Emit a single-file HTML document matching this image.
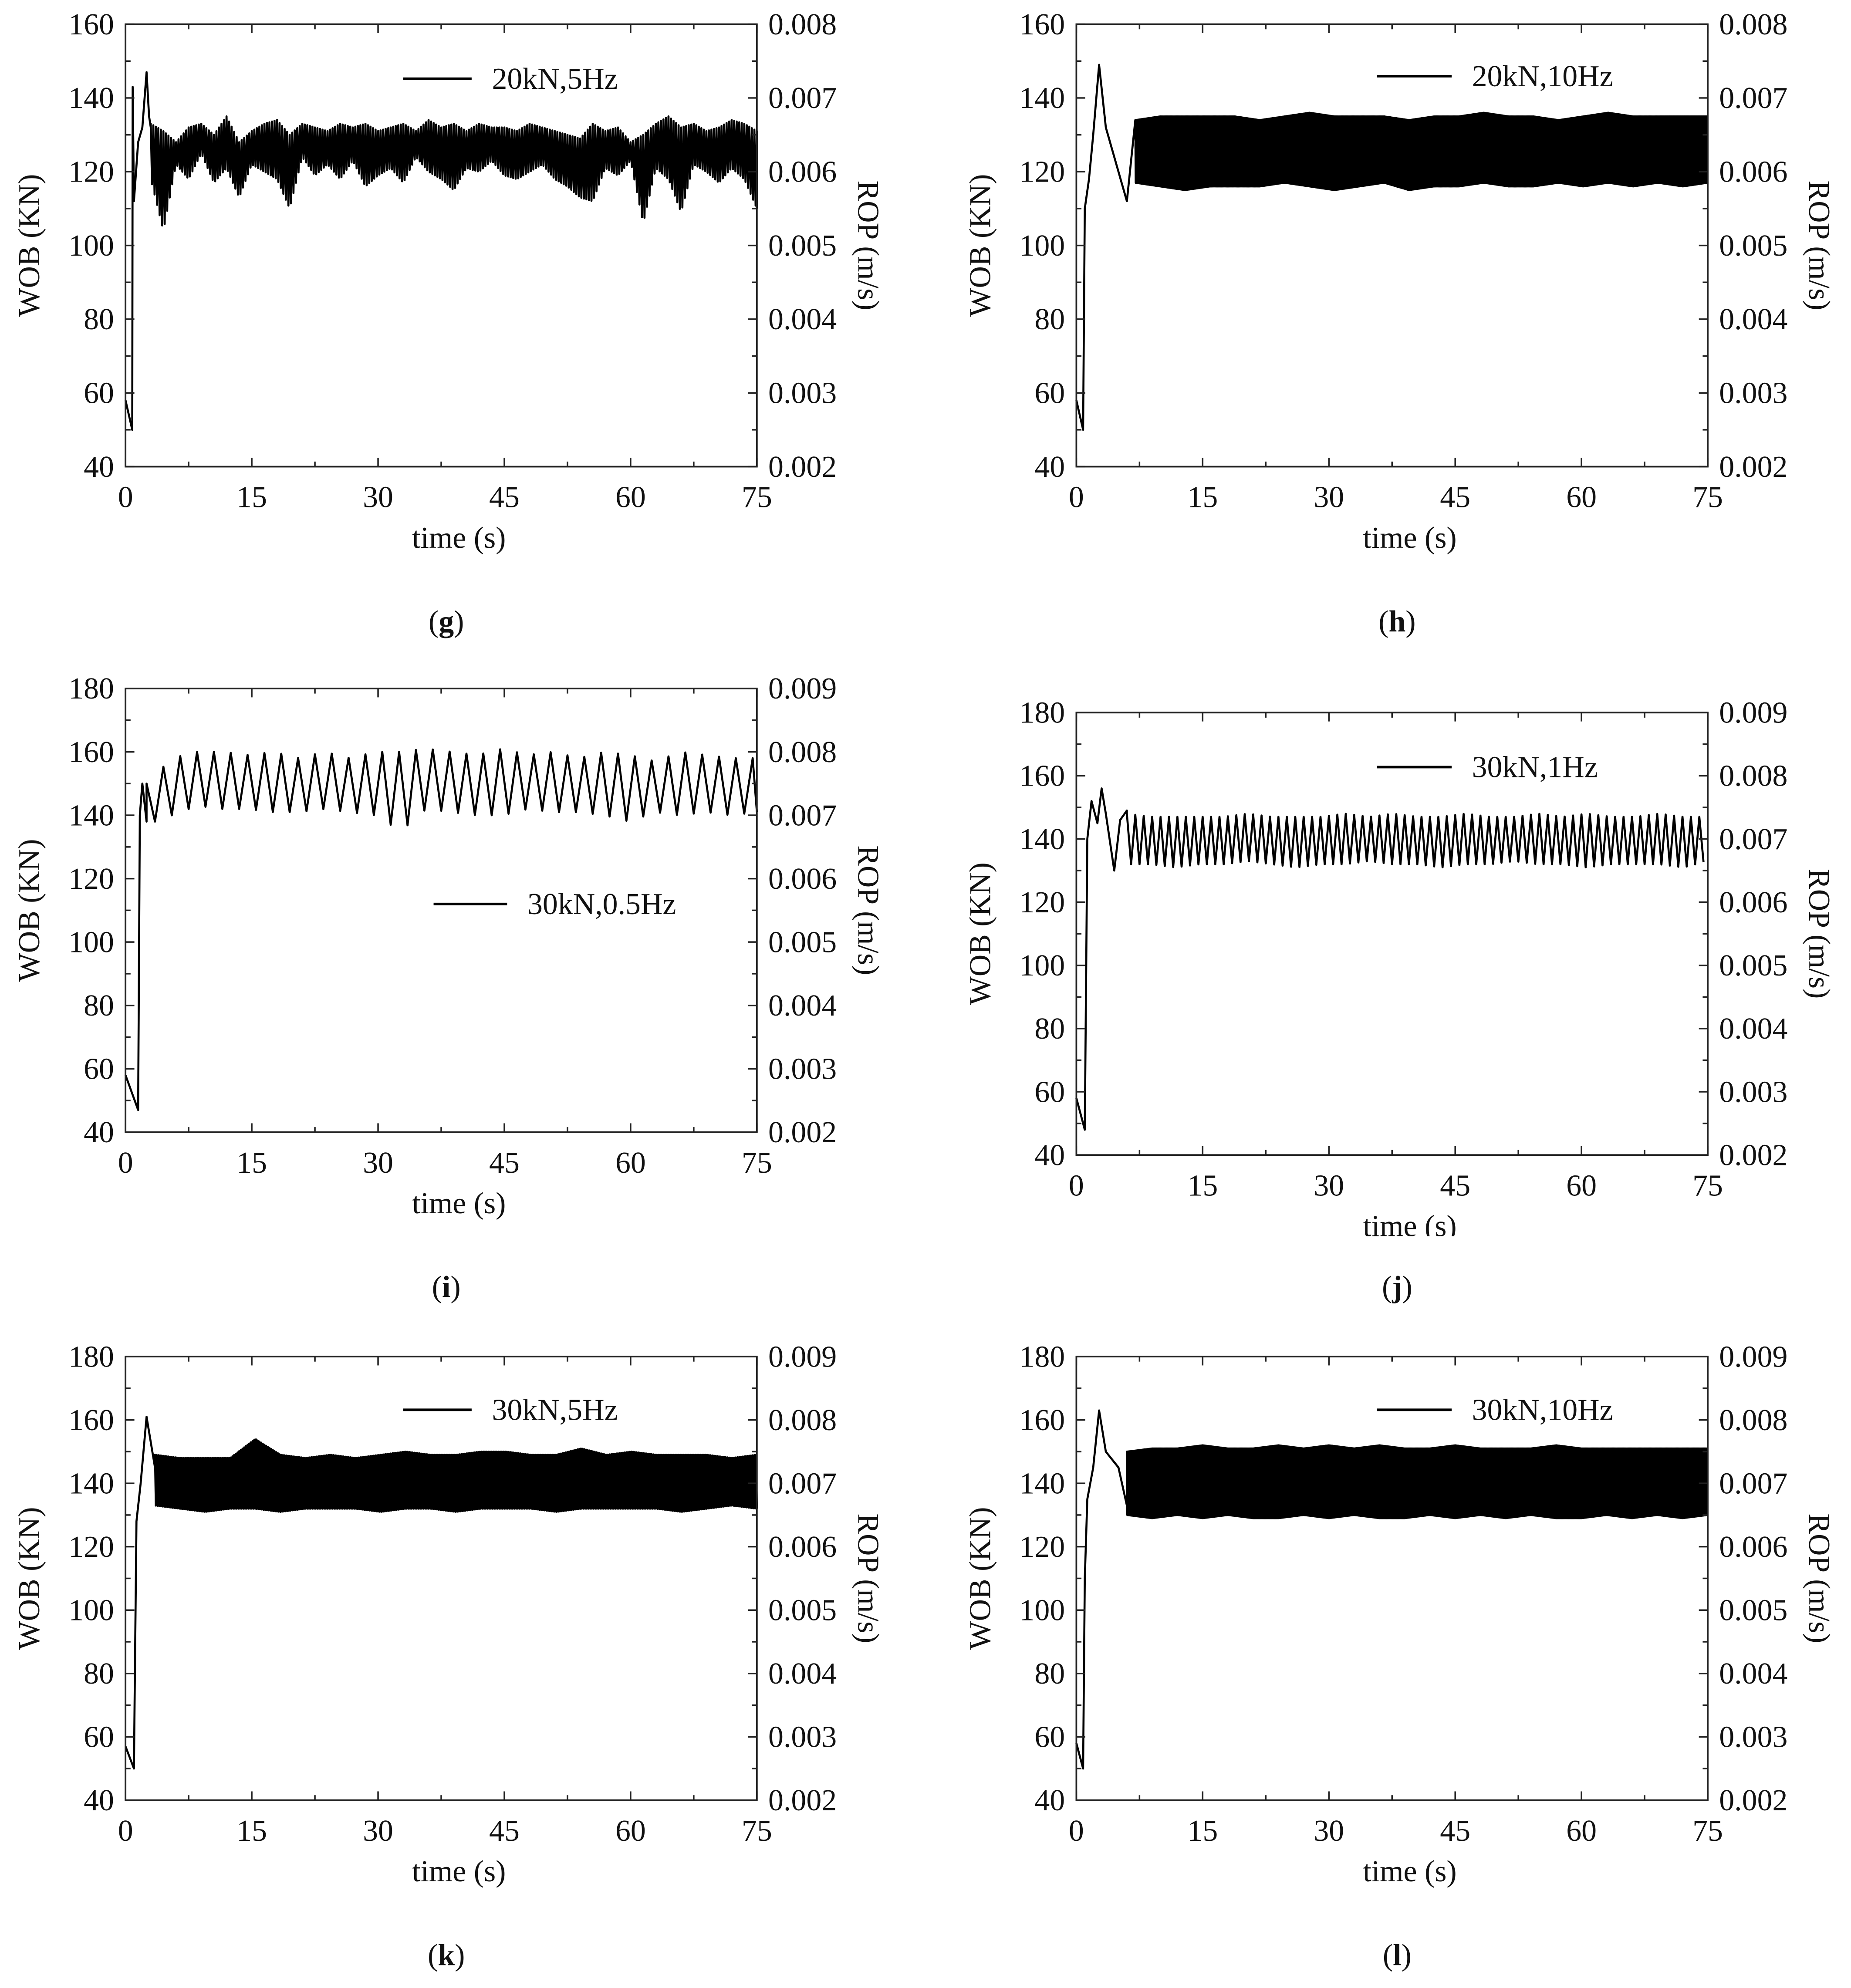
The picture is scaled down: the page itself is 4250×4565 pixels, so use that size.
<!DOCTYPE html>
<html><head><meta charset="utf-8">
<style>
html,body{margin:0;padding:0;background:#fff;}
svg{display:block;}
text{font-family:"Liberation Serif",serif;fill:#111;}
</style></head>
<body>
<svg id="chart" width="4250" height="4565" viewBox="0 0 1460 1568" xmlns="http://www.w3.org/2000/svg">
<defs><clipPath id="clipj"><rect x="700" y="540" width="760" height="435"/></clipPath></defs>
</svg>
<script>
// ---------- data (times in s, WOB in kN) ----------
const xTicks = [0, 15, 30, 45, 60, 75];
const yTicks160 = [40, 60, 80, 100, 120, 140, 160];
const yTicks180 = [40, 60, 80, 100, 120, 140, 160, 180];
const rTicks8 = ["0.002", "0.003", "0.004", "0.005", "0.006", "0.007", "0.008"];
const rTicks9 = ["0.002", "0.003", "0.004", "0.005", "0.006", "0.007", "0.008", "0.009"];

const gStartT = [0, 0.8, 0.85, 1.0, 1.5, 2.0, 2.5, 2.8, 3.0];
const gStartV = [58, 50, 143, 112, 128, 132, 147, 135, 132];
const gHi = [133,131,128,132,133,130,135,128,131,133,134,130,133,132,131,133,132,133,131,132,133,131,134,132,133,131,133,132,132,131,133,132,131,130,129,133,131,132,128,130,133,135,132,133,131,132,134,133,131];
const gLo = [118,104,122,118,125,117,121,113,122,120,118,110,124,119,122,118,123,116,119,121,117,124,120,118,115,121,120,123,119,118,120,122,118,116,113,112,121,119,123,106,121,118,109,122,120,117,121,118,110];

const hStartT = [0, 0.8, 1.0, 1.5, 2.0, 2.7, 3.5, 5, 6, 7];
const hStartV = [58, 50, 110, 118, 130, 149, 132, 120, 112, 134];
const hHi = [134,135,135,135,135,134,135,136,135,135,135,134,135,135,136,135,135,134,135,136,135,135,135,135];
const hLo = [117,116,115,116,116,116,117,116,115,116,117,115,116,116,117,116,116,117,116,117,116,117,116,117];

const iStartT = [0, 1.5, 1.7, 2.0, 2.5];
const iStartV = [58, 47, 140, 150, 138];
const iHi = [150,158,160,160,159,160,158,160,158,160,160,161,160,159,161,159,160,158,160,159,157,160,159,158,158];
const iLo = [137,140,143,142,142,141,141,142,141,140,135,142,141,140,140,142,141,141,140,138,141,140,141,140,141];

const jStartT = [0, 1.0, 1.3, 1.8, 2.5, 3.0, 3.5, 4.5, 5.2, 6];
const jStartV = [58, 48, 140, 152, 145, 156, 148, 130, 146, 149];
const jHi = [148,147,147,147,147,148,147,147,147,148,147,148,147,147,148,147,147,148,147,148,147,147,148,147,147];
const jLo = [132,132,131,132,132,133,132,131,132,132,133,132,132,131,132,132,133,132,132,131,132,132,132,131,133];

const kStartT = [0, 1.0, 1.3, 1.8, 2.5, 3.5];
const kStartV = [57, 50, 128, 140, 161, 145];
const kHi = [149,148,148,148,154,149,148,149,148,149,150,149,149,150,150,149,149,151,149,150,149,149,149,148,149];
const kLo = [133,132,131,132,132,131,132,132,132,131,132,132,131,132,132,132,131,132,132,132,132,131,132,133,132];

const lStartT = [0, 0.8, 1.0, 1.3, 2.0, 2.7, 3.5, 5, 6];
const lStartV = [58, 50, 110, 135, 145, 163, 150, 145, 133];
const lHi = [150,151,151,152,151,151,152,151,152,151,152,151,151,152,151,151,151,152,151,151,151,151,151,151];
const lLo = [130,129,130,129,130,129,129,130,129,130,129,129,130,129,130,129,130,129,129,130,129,130,129,130];

const labelsText = ["20kN,5Hz", "20kN,10Hz", "30kN,0.5Hz", "30kN,1Hz", "30kN,5Hz", "30kN,10Hz"];
const panelLetters = ["g", "h", "i", "j", "k", "l"];

// ---------- layout ----------
const panels = [
 {id:"g", x0:99, x1:597, y0:19, y1:368, ymax:160, st:gStartT, sv:gStartV, hi:gHi, lo:gLo, per:0.3, leg:[318,372,62], cap:[352,490]},
 {id:"h", x0:849, x1:1347, y0:19, y1:368, ymax:160, st:hStartT, sv:hStartV, hi:hHi, lo:hLo, per:0.1, leg:[1086,1145,60], cap:[1102,490]},
 {id:"i", x0:99, x1:597, y0:543, y1:893, ymax:180, st:iStartT, sv:iStartV, hi:iHi, lo:iLo, per:2.0, leg:[342,400,713], cap:[352,1015]},
 {id:"j", x0:849, x1:1347, y0:562, y1:911, ymax:180, st:jStartT, sv:jStartV, hi:jHi, lo:jLo, per:1.0, leg:[1086,1145,605], cap:[1102,1015], clip:true},
 {id:"k", x0:99, x1:597, y0:1070, y1:1420, ymax:180, st:kStartT, sv:kStartV, hi:kHi, lo:kLo, per:0.2, leg:[318,372,1112], cap:[352,1542]},
 {id:"l", x0:849, x1:1347, y0:1070, y1:1420, ymax:180, st:lStartT, sv:lStartV, hi:lHi, lo:lLo, per:0.1, leg:[1086,1145,1112], cap:[1102,1542]}
];

const NS = "http://www.w3.org/2000/svg";
const svg = document.getElementById("chart");
function mk(tag, attrs, parent, txt){
  const e = document.createElementNS(NS, tag);
  for (const k in attrs) e.setAttribute(k, attrs[k]);
  if (txt !== undefined) e.textContent = txt;
  (parent || svg).appendChild(e);
  return e;
}
function interp(arr, t0, t){
  const f = (t - t0) / (75 - t0) * (arr.length - 1);
  const i = Math.max(0, Math.min(arr.length - 2, Math.floor(f)));
  const r = Math.max(0, Math.min(1, f - i));
  return arr[i] * (1 - r) + arr[i + 1] * r;
}

panels.forEach((p, idx) => {
  const g = mk("g", {});
  
  
  const X = t => p.x0 + (t / 75) * (p.x1 - p.x0);
  const Y = v => p.y1 - (v - 40) / (p.ymax - 40) * (p.y1 - p.y0);
  const yT = p.ymax === 160 ? yTicks160 : yTicks180;
  const rT = p.ymax === 160 ? rTicks8 : rTicks9;

  const pts = [];
  for (let i = 0; i < p.st.length; i++) pts.push([X(p.st[i]), Y(p.sv[i])]);
  const t0 = p.st[p.st.length - 1];
  for (let t = t0; t < 75; t += p.per){
    pts.push([X(t), Y(interp(p.hi, t0, t))]);
    const tl = Math.min(75, t + p.per / 2);
    pts.push([X(tl), Y(interp(p.lo, t0, tl))]);
  }
  const line = mk("polyline", {points: pts.map(q => q[0].toFixed(2) + "," + q[1].toFixed(2)).join(" "), fill:"none", stroke:"#000", "stroke-width":1.6, "stroke-linejoin":"round"}, g);
  
  

  const fr = mk("rect", {x:p.x0, y:p.y0, width:p.x1 - p.x0, height:p.y1 - p.y0, fill:"none", stroke:"#222", "stroke-width":1.3}, g);
  
  

  const xg = mk("g", {}, g);
  
  
  for (let t = 0; t <= 75; t += 7.5){
    const major = (t % 15 === 0);
    const L = major ? 7 : 4;
    mk("line", {x1:X(t), x2:X(t), y1:p.y1, y2:p.y1 - L, stroke:"#222", "stroke-width":1.2}, xg);
    mk("line", {x1:X(t), x2:X(t), y1:p.y0, y2:p.y0 + L, stroke:"#222", "stroke-width":1.2}, xg);
  }
  xTicks.forEach(t => {
    const tx = mk("text", {x:X(t), y:p.y1 + 32, "font-size":24, "text-anchor":"middle"}, xg, String(t));
    
    
  });
  const xtParent = p.clip ? mk("g", {"clip-path":"url(#clipj)"}, g) : g;
  const xt = mk("text", {x:(p.x0 + p.x1) / 2 + 14, y:p.y1 + 64, "font-size":24, "text-anchor":"middle"}, xtParent, "time (s)");
  
  

  const yg = mk("g", {}, g);
  
  
  for (let v = 40; v <= p.ymax; v += 10){
    const major = (v % 20 === 0);
    const L = major ? 7 : 4;
    mk("line", {x1:p.x0, x2:p.x0 + L, y1:Y(v), y2:Y(v), stroke:"#222", "stroke-width":1.2}, yg);
    mk("line", {x1:p.x1, x2:p.x1 - L, y1:Y(v), y2:Y(v), stroke:"#222", "stroke-width":1.2}, yg);
  }
  yT.forEach((v, i) => {
    const a = mk("text", {x:p.x0 - 9, y:Y(v) + 8, "font-size":24, "text-anchor":"end"}, yg, String(v));
    
    
    const b = mk("text", {x:p.x1 + 9, y:Y(v) + 8, "font-size":24}, yg, rT[i]);
    
    
  });
  const cy = (p.y0 + p.y1) / 2;
  const yl = mk("text", {x:0, y:0, "font-size":24, "text-anchor":"middle", transform:"translate(" + (p.x0 - 68) + "," + cy + ") rotate(-90)"}, yg, "WOB (KN)");
  
  
  const rl = mk("text", {x:0, y:0, "font-size":24, "text-anchor":"middle", transform:"translate(" + (p.x1 + 80) + "," + cy + ") rotate(90)"}, yg, "ROP (m/s)");
  
  

  const lg = mk("g", {}, g);
  
  
  mk("line", {x1:p.leg[0], x2:p.leg[1], y1:p.leg[2], y2:p.leg[2], stroke:"#000", "stroke-width":2}, lg);
  mk("text", {x:p.leg[1] + 16, y:p.leg[2] + 8, "font-size":24}, lg, labelsText[idx]);

  const cap = mk("text", {x:p.cap[0], y:p.cap[1] + 8, "font-size":24, "text-anchor":"middle"}, g);
  
  
  mk("tspan", {}, cap, "(");
  mk("tspan", {"font-weight":"bold"}, cap, panelLetters[idx]);
  mk("tspan", {}, cap, ")");
});
</script>
</body></html>
